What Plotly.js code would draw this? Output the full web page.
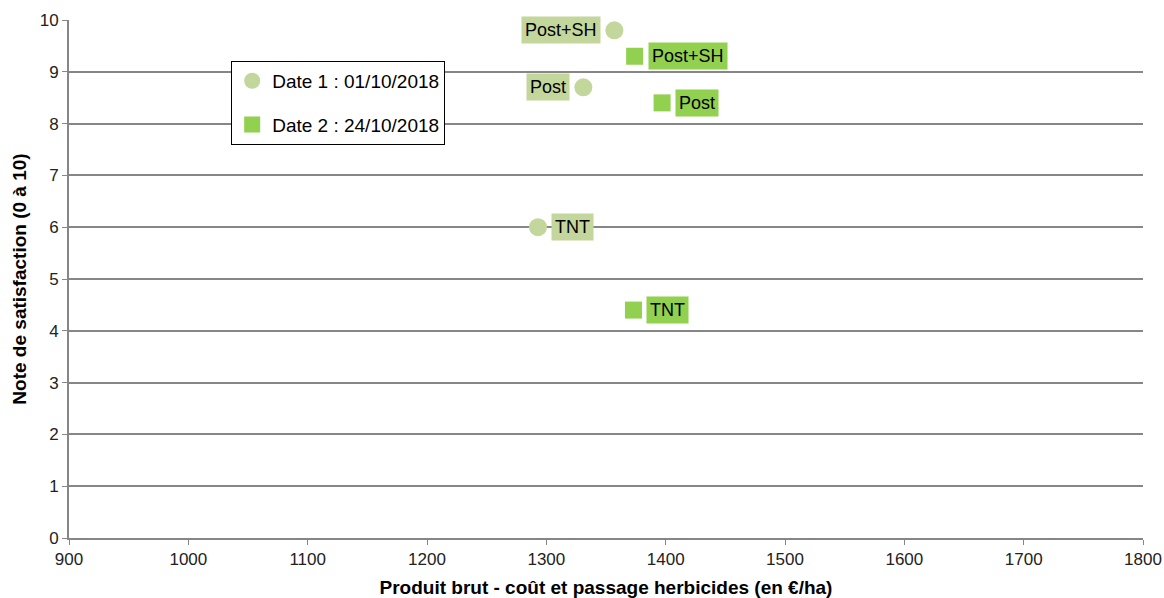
<!DOCTYPE html>
<html>
<head>
<meta charset="utf-8">
<script src="https://cdn.plot.ly/plotly-3.0.1.min.js"></script>
<style>html,body{margin:0;padding:0;background:#fff}#chart{width:1164px;height:598px}</style>
</head>
<body>
<div id="chart"></div>
<script>
// Produit brut vs note de satisfaction, two assessment dates
const modalites = ["Post+SH", "Post", "TNT"];
const date1Produit = [1357, 1331, 1293];
const date1Note = [9.8, 8.7, 6.0];
const date2Produit = [1374, 1397, 1373];
const date2Note = [9.3, 8.4, 4.4];
const date1Name = "Date 1 : 01/10/2018";
const date2Name = "Date 2 : 24/10/2018";
const color1 = "#c3d69b";
const color2 = "#92d050";
// labels of date 1: left for Post+SH and Post, right for TNT
const date1Side = ["left", "left", "right"];

const font = "Liberation Sans, Arial, sans-serif";

const traces = [
  {
    type: "scatter", mode: "markers", name: date1Name,
    x: date1Produit, y: date1Note, text: modalites,
    legendgroup: "d1",
    marker: {symbol: "circle", size: 18, color: color1},
    hoverinfo: "text+x+y"
  },
  {
    type: "scatter", mode: "markers", name: date2Name,
    x: date2Produit, y: date2Note, text: modalites,
    legendgroup: "d2",
    marker: {symbol: "square", size: 17, color: color2},
    hoverinfo: "text+x+y"
  }
];

const annotations = [];
modalites.forEach((m, i) => {
  const left = date1Side[i] === "left";
  annotations.push({
    x: date1Produit[i], y: date1Note[i], xref: "x", yref: "y",
    text: m, showarrow: false,
    xanchor: left ? "right" : "left",
    xshift: left ? -13 : 13,
    bgcolor: color1, borderpad: 3,
    font: {family: font, size: 18, color: "#000"}
  });
  annotations.push({
    x: date2Produit[i], y: date2Note[i], xref: "x", yref: "y",
    text: m, showarrow: false,
    xanchor: "left", xshift: 13,
    bgcolor: color2, borderpad: 3,
    font: {family: font, size: 18, color: "#000"}
  });
});

const layout = {
  width: 1164, height: 598,
  margin: {l: 69, r: 21, t: 20, b: 60, pad: 0},
  paper_bgcolor: "#fff", plot_bgcolor: "#fff",
  font: {family: font, size: 17, color: "#222"},
  showlegend: true,
  legend: {
    x: 0.151, y: 0.921, xanchor: "left", yanchor: "top",
    bgcolor: "#fff", bordercolor: "#000", borderwidth: 1,
    font: {family: font, size: 19, color: "#000"},
    tracegroupgap: 16
  },
  xaxis: {
    range: [900, 1800], dtick: 100, tick0: 900,
    showgrid: false, zeroline: false,
    showline: true, linecolor: "#868686", linewidth: 2,
    ticks: "outside", ticklen: 5, tickcolor: "#868686", tickwidth: 1,
    tickfont: {family: font, size: 17, color: "#222"},
    title: {text: "<b>Produit brut - coût et passage herbicides (en €/ha)</b>",
            font: {family: font, size: 19, color: "#000"}, standoff: 14}
  },
  yaxis: {
    range: [0, 10], dtick: 1,
    showgrid: true, gridcolor: "#868686", gridwidth: 2, zeroline: false,
    showline: true, linecolor: "#868686", linewidth: 2,
    ticks: "outside", ticklen: 5, tickcolor: "#868686", tickwidth: 1,
    tickfont: {family: font, size: 17, color: "#222"},
    title: {text: "<b>Note de satisfaction (0 à 10)</b>",
            font: {family: font, size: 19, color: "#000"}, standoff: 8}
  },
  annotations: annotations
};

Plotly.newPlot("chart", traces, layout, {displayModeBar: false, staticPlot: true});
</script>
</body>
</html>
